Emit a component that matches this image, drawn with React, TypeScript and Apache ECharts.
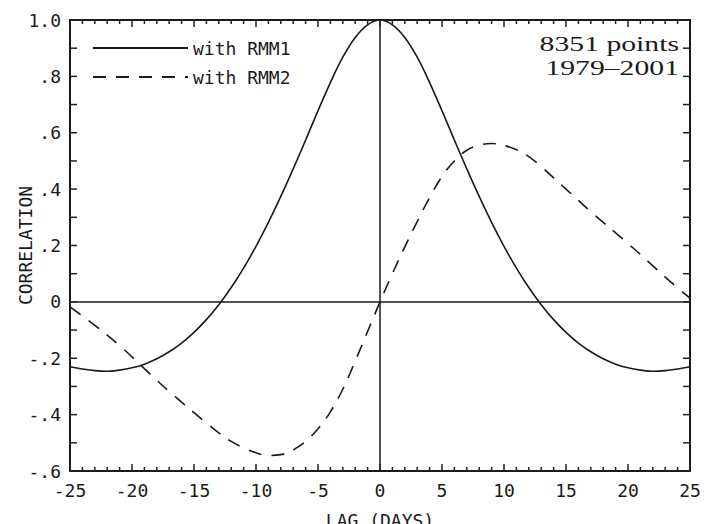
import React, { useEffect, useRef } from "react";
import * as echarts from "echarts";

const lags: number[] = [];
for (let i = -25; i <= 25; i++) lags.push(i);

// RMM1 correlation at lags 0..25 (symmetric about 0)
const rmm1Half = [
  1.0, 0.983, 0.938, 0.868, 0.778, 0.678, 0.574, 0.472, 0.374, 0.282, 0.197,
  0.12, 0.051, -0.01, -0.063, -0.108, -0.146, -0.177, -0.202, -0.221, -0.234,
  -0.242, -0.246, -0.244, -0.238, -0.23,
];
const rmm1Values = [...rmm1Half.slice(1).reverse(), ...rmm1Half];

// RMM2 correlation at lags -25..25
const rmm2Values = [
  -0.018, -0.05, -0.083, -0.118, -0.155, -0.195, -0.237, -0.278, -0.318,
  -0.356, -0.393, -0.43, -0.465, -0.495, -0.518, -0.535, -0.545, -0.542,
  -0.525, -0.495, -0.45, -0.39, -0.31, -0.21, -0.105, 0.0, 0.1, 0.195, 0.285,
  0.37, 0.445, 0.5, 0.538, 0.556, 0.562, 0.555, 0.54, 0.515, 0.48, 0.44, 0.4,
  0.36, 0.32, 0.282, 0.245, 0.207, 0.168, 0.128, 0.088, 0.05, 0.013,
];

// axis tick positions (every day on x, every 0.1 on y)
const xTickValues = lags;
const yTickValues = [-0.6, -0.5, -0.4, -0.3, -0.2, -0.1, 0, 0.1, 0.2, 0.3, 0.4, 0.5, 0.6, 0.7, 0.8, 0.9, 1.0];

const seriesNames = ["with RMM1", "with RMM2"];
const annotation = ["8351 points", "1979–2001"];

const MONO = "'DejaVu Sans Mono', monospace";
const SERIF = "'Liberation Serif', 'DejaVu Serif', serif";
const INK = "#1a1a1a";

const X_MIN = -25;
const X_MAX = 25;
const Y_MIN = -0.6;
const Y_MAX = 1.0;

function fmtY(v: number): string {
  const r = Math.round(v * 10) / 10;
  if (r === 0) return "0";
  if (r === 1) return "1.0";
  const s = Math.abs(r).toFixed(1).replace(/^0/, "");
  return (r < 0 ? "-" : "") + s;
}

function axisLine() {
  return { show: true, onZero: false, lineStyle: { color: INK, width: 2 } };
}

function xTickRender(_params: any, api: any) {
  const v = api.value(0);
  const b = api.coord([v, Y_MIN]);
  const t = api.coord([v, Y_MAX]);
  const len = Math.abs(v % 5) < 1e-9 ? 7 : 4;
  const style = { stroke: "#222222", lineWidth: 1.5 };
  return {
    type: "group",
    children: [
      { type: "line", shape: { x1: b[0], y1: b[1], x2: b[0], y2: b[1] - len }, style },
      { type: "line", shape: { x1: t[0], y1: t[1], x2: t[0], y2: t[1] + len }, style },
    ],
  };
}

function yTickRender(_params: any, api: any) {
  const v = api.value(1);
  const l = api.coord([X_MIN, v]);
  const r = api.coord([X_MAX, v]);
  const len = 7;
  const style = { stroke: "#222222", lineWidth: 1.5 };
  return {
    type: "group",
    children: [
      { type: "line", shape: { x1: l[0], y1: l[1], x2: l[0] + len, y2: l[1] }, style },
      { type: "line", shape: { x1: r[0], y1: r[1], x2: r[0] - len, y2: r[1] }, style },
    ],
  };
}

export default function App() {
  const ref = useRef<HTMLDivElement>(null);
  useEffect(() => {
    if (!ref.current) return;
    const chart = echarts.init(ref.current, undefined, { renderer: "svg" });
    chart.setOption({
      animation: false,
      grid: { left: 70, right: 15, top: 20, bottom: 53, containLabel: false, outerBoundsMode: "none" },
      legend: {
        orient: "vertical",
        left: 87,
        top: 34,
        itemWidth: 95,
        itemHeight: 14,
        itemGap: 11,
        itemStyle: { opacity: 0 },
        textStyle: { fontFamily: MONO, fontSize: 18, color: INK },
        data: seriesNames,
      },
      xAxis: [
        {
          type: "value",
          position: "bottom",
          min: X_MIN,
          max: X_MAX,
          interval: 5,
          axisLine: axisLine(),
          splitLine: { show: false },
          axisTick: { show: false },
          name: "LAG (DAYS)",
          nameLocation: "middle",
          nameGap: 40,
          nameMoveOverlap: false,
          nameTextStyle: { fontFamily: MONO, fontSize: 18, color: INK },
          axisLabel: { fontFamily: MONO, fontSize: 18, color: INK, margin: 10 },
        },
        {
          type: "value",
          position: "top",
          min: X_MIN,
          max: X_MAX,
          interval: 5,
          axisLine: axisLine(),
          splitLine: { show: false },
          axisTick: { show: false },
          axisLabel: { show: false },
        },
      ],
      yAxis: [
        {
          type: "value",
          position: "left",
          min: Y_MIN,
          max: Y_MAX,
          interval: 0.2,
          axisLine: axisLine(),
          splitLine: { show: false },
          axisTick: { show: false },
          name: "CORRELATION",
          nameLocation: "middle",
          nameGap: 36,
          nameMoveOverlap: false,
          nameRotate: 90,
          nameTextStyle: { fontFamily: MONO, fontSize: 18, color: INK },
          axisLabel: { fontFamily: MONO, fontSize: 18, color: INK, margin: 9, formatter: fmtY },
        },
        {
          type: "value",
          position: "right",
          min: Y_MIN,
          max: Y_MAX,
          interval: 0.2,
          axisLine: axisLine(),
          splitLine: { show: false },
          axisTick: { show: false },
          axisLabel: { show: false },
        },
      ],
      series: [
        {
          name: seriesNames[0],
          type: "line",
          symbol: "none",
          smooth: 0.4,
          data: lags.map((l, i) => [l, rmm1Values[i]]),
          lineStyle: { color: INK, width: 1.6, type: "solid" },
          itemStyle: { color: INK },
          markLine: {
            silent: true,
            symbol: ["none", "none"],
            label: { show: false },
            lineStyle: { color: INK, width: 1.5, type: "solid" },
            data: [{ yAxis: 0 }, { xAxis: 0 }],
          },
        },
        {
          name: seriesNames[1],
          type: "line",
          symbol: "none",
          smooth: 0.4,
          data: lags.map((l, i) => [l, rmm2Values[i]]),
          lineStyle: { color: INK, width: 1.6, type: [13, 10] },
          itemStyle: { color: INK },
        },
        {
          name: "x ticks",
          type: "custom",
          silent: true,
          clip: false,
          z: 5,
          renderItem: xTickRender,
          data: xTickValues.map((v) => [v, Y_MIN]),
        },
        {
          name: "y ticks",
          type: "custom",
          silent: true,
          clip: false,
          z: 5,
          renderItem: yTickRender,
          data: yTickValues.map((v) => [X_MIN, v]),
        },
      ],
      graphic: [
        {
          type: "text",
          x: 679,
          y: 44,
          scaleX: 1.35,
          style: {
            text: annotation[0],
            align: "right",
            verticalAlign: "middle",
            font: `22px ${SERIF}`,
            fill: INK,
          },
        },
        {
          type: "text",
          x: 679,
          y: 68,
          scaleX: 1.35,
          style: {
            text: annotation[1],
            align: "right",
            verticalAlign: "middle",
            font: `22px ${SERIF}`,
            fill: INK,
          },
        },
      ],
    });
    return () => chart.dispose();
  }, []);
  return (
    <div
      ref={ref}
      style={{ position: "fixed", left: 0, top: 0, width: 705, height: 524, background: "#fff" }}
    />
  );
}
